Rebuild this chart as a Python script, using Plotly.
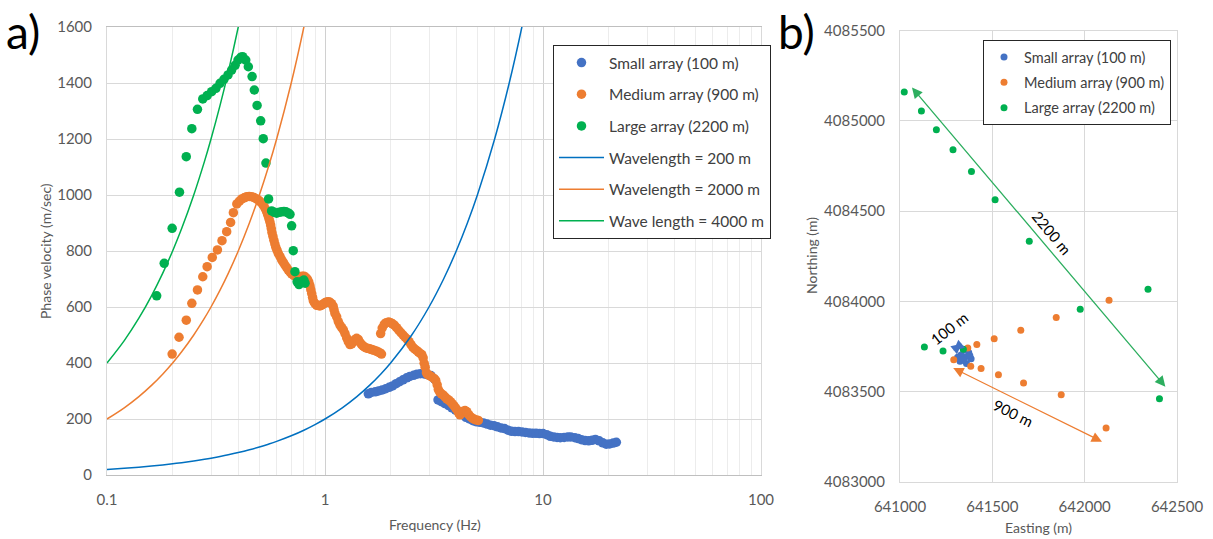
import plotly.graph_objects as go

# ---------------- Panel a) dispersion curves ----------------
SMALL_F = [1.58, 1.63, 1.70, 1.76, 1.83, 1.90, 1.97, 2.04, 2.12, 2.20, 2.28, 2.37,
           2.45, 2.55, 2.64, 2.74, 2.85, 2.95, 3.06, 3.18, 3.30, 3.42, 3.55, 3.69,
           3.82, 3.97, 4.12, 4.27, 4.43, 4.60, 4.77, 4.96, 5.14, 5.33, 5.54, 5.74,
           5.96, 6.18, 6.42, 6.66, 6.91, 7.17, 7.44, 7.72, 8.01, 8.31, 8.63, 8.95,
           9.29, 9.64, 10.0, 10.4, 10.8, 11.2, 11.6, 12.0, 12.5, 13.0, 13.4, 14.0,
           14.5, 15.0, 15.6, 16.2, 16.8, 17.4, 18.1, 18.8, 19.5, 20.2, 21.0, 21.7]
SMALL_V = [290, 295, 297, 300, 304, 308, 313, 318, 326, 333, 340, 347,
           352, 356, 360, 362, 361, 358, 355, 342, 268, 262, 255, 248,
           240, 232, 224, 216, 206, 200, 194, 190, 188, 186, 182, 178,
           176, 172, 168, 166, 160, 156, 155, 155, 154, 152, 150, 149,
           149, 148, 148, 144, 138, 136, 134, 133, 134, 136, 136, 133,
           130, 126, 123, 122, 124, 127, 122, 115, 110, 111, 114, 117]

MEDIUM_F = [0.199, 0.214, 0.231, 0.245, 0.260, 0.275, 0.288, 0.304, 0.321, 0.337,
            0.354, 0.369, 0.380, 0.394, 0.405, 0.415, 0.426, 0.437, 0.449, 0.461,
            0.473, 0.486, 0.497, 0.507, 0.516, 0.525, 0.533, 0.540, 0.547, 0.553,
            0.558, 0.563, 0.567, 0.571, 0.577, 0.583, 0.589, 0.595, 0.603, 0.611,
            0.622, 0.633, 0.644, 0.655, 0.667, 0.679, 0.691, 0.703, 0.720, 0.736,
            0.752, 0.768, 0.785, 0.801, 0.815, 0.830, 0.842, 0.853, 0.861, 0.869,
            0.877, 0.884, 0.900, 0.916, 0.932, 0.948, 0.965, 0.983, 1.000, 1.018,
            1.036, 1.054, 1.072, 1.090, 1.100, 1.111, 1.131, 1.151, 1.172, 1.193,
            1.214, 1.235, 1.257, 1.279, 1.302, 1.325, 1.349, 1.373, 1.397, 1.421,
            1.447, 1.472, 1.498, 1.526, 1.553, 1.581, 1.609, 1.638, 1.666, 1.696,
            1.726, 1.757, 1.788, 1.816,
            1.80, 1.83, 1.87, 1.91, 1.96, 2.00, 2.04, 2.08, 2.13, 2.18,
            2.23, 2.28, 2.33, 2.38, 2.43, 2.48, 2.53, 2.58, 2.63, 2.68,
            2.73, 2.78, 2.82, 2.85, 2.88, 2.92, 2.96, 3.02, 3.09, 3.16,
            3.22, 3.27, 3.31, 3.36, 3.42, 3.49, 3.56, 3.62, 3.69, 3.76,
            3.83, 3.90, 3.97, 4.04, 4.10, 4.16, 4.23, 4.31, 4.39, 4.47,
            4.56, 4.65, 4.74, 4.84, 4.95, 5.05]
MEDIUM_V = [432, 492, 553, 613, 661, 708, 744, 777, 804, 837,
            869, 902, 937, 968, 978, 986, 990, 994, 995, 994,
            991, 986, 981, 975, 968, 960, 950, 940, 928, 916,
            905, 893, 880, 866, 852, 838, 825, 813, 802, 791,
            780, 768, 759, 750, 741, 732, 725, 718, 712, 708,
            706, 708, 710, 710, 706, 700, 690, 676, 662, 648,
            634, 622, 612, 606, 605, 604, 607, 611, 615, 618,
            619, 617, 612, 603, 590, 577, 565, 548, 535, 526,
            518, 505, 490, 476, 466, 468, 476, 484, 488, 484,
            474, 466, 460, 456, 453, 452, 450, 448, 446, 444,
            442, 439, 436, 432,
            505, 525, 538, 544, 546, 544, 540, 535, 526, 517,
            508, 500, 492, 485, 476, 466, 456, 450, 445, 440,
            434, 430, 418, 399, 385, 365, 358, 355, 350, 345,
            338, 322, 305, 296, 290, 285, 278, 272, 268, 262,
            255, 248, 240, 232, 222, 215, 220, 228, 230, 226,
            216, 208, 203, 199, 196, 195]

LARGE_F = [0.169, 0.183, 0.199, 0.215, 0.231, 0.245, 0.260, 0.275, 0.288, 0.302,
           0.316, 0.330, 0.344, 0.359, 0.373, 0.387, 0.399, 0.411, 0.419, 0.433,
           0.445, 0.463, 0.474, 0.488, 0.507, 0.521, 0.536, 0.551, 0.569, 0.585,
           0.600, 0.617, 0.633, 0.648, 0.662, 0.678, 0.691, 0.703, 0.715, 0.728,
           0.745, 0.760, 0.768, 0.785, 0.800, 0.810]
LARGE_V = [640, 756, 881, 1010, 1137, 1237, 1306, 1343, 1355, 1369,
           1381, 1399, 1413, 1429, 1446, 1463, 1482, 1492, 1494, 1482,
           1458, 1423, 1375, 1320, 1265, 1201, 1114, 986, 943, 938,
           935, 938, 940, 941, 940, 936, 931, 890, 801, 726,
           690, 680, 687, 692, 696, 685]

# Frequencies at which the constant-wavelength reference curves are evaluated
LINE_F = [0.1, 0.12, 0.14, 0.16, 0.18, 0.2, 0.22, 0.25, 0.28, 0.3, 0.33, 0.36, 0.4,
          0.45, 0.5, 0.55, 0.6, 0.7, 0.8, 0.9, 1.0, 1.2, 1.4, 1.6, 1.8, 2.0,
          2.5, 3.0, 3.5, 4.0, 4.5, 5.0, 6.0, 7.0, 8.0, 9.0, 10.0]
WAVELENGTHS = [200, 2000, 4000]
WAVELENGTH_NAMES = ["Wavelength = 200 m", "Wavelength = 2000 m", "Wave length = 4000 m"]

# ---------------- Panel b) array layouts ----------------
SMALL_E = [641352, 641330, 641372, 641385, 641360, 641325, 641345, 641312, 641378, 641340]
SMALL_N = [4083690, 4083702, 4083716, 4083682, 4083655, 4083668, 4083728, 4083690, 4083700, 4083675]

MEDIUM_E = [642132, 641846, 641654, 641510, 641416, 641367, 641291,
            641383, 641439, 641533, 641669, 641873, 642116]
MEDIUM_N = [4084006, 4083910, 4083840, 4083793, 4083760, 4083741, 4083676,
            4083640, 4083627, 4083593, 4083547, 4083482, 4083298]

LARGE_E = [641023, 641116, 641197, 641287, 641387, 641515, 641700,
           641976, 642343, 642405, 641132, 641233, 641343]
LARGE_N = [4085160, 4085055, 4084951, 4084840, 4084720, 4084563, 4084333,
           4083956, 4084067, 4083460, 4083747, 4083725, 4083734]

SERIES_NAMES = ["Small array (100 m)", "Medium array (900 m)", "Large array (2200 m)"]
POINT_COLORS = ["#4472C4", "#ED7D31", "#00B050"]
LINE_COLORS = ["#0070C0", "#ED7D31", "#00B050"]

FONT = "Lato"
GRID = "#D9D9D9"
TICK_COLOR = "#595959"
W, H = 1213, 539

fig = go.Figure()

# Panel a) scatter series
for i, (f, v) in enumerate([(SMALL_F, SMALL_V), (MEDIUM_F, MEDIUM_V), (LARGE_F, LARGE_V)]):
    fig.add_trace(go.Scatter(
        x=f, y=v, mode="markers", name=SERIES_NAMES[i],
        marker=dict(color=POINT_COLORS[i], size=9.5, line=dict(width=0)),
        xaxis="x", yaxis="y", legend="legend", legendgroup=f"a{i}",
    ))

# Panel a) constant-wavelength lines: phase velocity = wavelength * frequency
for i, lam in enumerate(WAVELENGTHS):
    fig.add_trace(go.Scatter(
        x=LINE_F, y=[lam * f for f in LINE_F], mode="lines", name=WAVELENGTH_NAMES[i],
        line=dict(color=LINE_COLORS[i], width=1.5, shape="spline"),
        xaxis="x", yaxis="y", legend="legend", legendgroup=f"l{i}",
    ))

# Panel b) station positions
for i, (e, n) in enumerate([(SMALL_E, SMALL_N), (MEDIUM_E, MEDIUM_N), (LARGE_E, LARGE_N)]):
    fig.add_trace(go.Scatter(
        x=e, y=n, mode="markers", name=SERIES_NAMES[i],
        marker=dict(color=POINT_COLORS[i], size=7, line=dict(width=0)),
        xaxis="x2", yaxis="y2", legend="legend2", legendgroup=f"b{i}",
    ))

# Aperture arrows in panel b): (tail E, tail N, head E, head N, colour)
ARROWS = [
    (641058, 4085193, 642437, 4083527, "#2DAE5F"),
    (641280, 4083634, 642094, 4083222, "#ED7D31"),
    (641282, 4083721, 641334, 4083765, "#4472C4"),
]
ARROW_LABELS = [("2200 m", 641823, 4084377, 50), ("900 m", 641614, 4083379, 26),
                ("100 m", 641268, 4083852, -38)]

annotations = []
for e0, n0, e1, n1, col in ARROWS:
    annotations.append(dict(
        x=e1, y=n1, ax=e0, ay=n0, xref="x2", yref="y2", axref="x2", ayref="y2",
        text="", showarrow=True, arrowhead=2, startarrowhead=2, arrowside="end+start",
        arrowsize=1.6, startarrowsize=1.6, arrowwidth=1.3, arrowcolor=col,
        standoff=0, startstandoff=0,
    ))
for txt, e, n, ang in ARROW_LABELS:
    annotations.append(dict(
        x=e, y=n, xref="x2", yref="y2", text=txt, showarrow=False, textangle=ang,
        font=dict(family=FONT, size=15, color="#000000"),
    ))

# Panel letters and axis titles
def paper_text(txt, px, py, size, color, angle=0, anchor="center"):
    return dict(x=px / W, y=1 - py / H, xref="paper", yref="paper", text=txt,
                showarrow=False, xanchor=anchor, yanchor="middle", textangle=angle,
                font=dict(family=FONT, size=size, color=color))

annotations.append(paper_text("a)", 4, 31, 46, "#000000", anchor="left"))
annotations.append(paper_text("b)", 776, 31, 46, "#000000", anchor="left"))
annotations.append(paper_text("Frequency (Hz)", 435, 524, 14, TICK_COLOR))
annotations.append(paper_text("Phase velocity (m/sec)", 45, 251, 14, TICK_COLOR, angle=-90))
annotations.append(paper_text("Easting (m)", 1038, 527, 14, TICK_COLOR))
annotations.append(paper_text("Northing (m)", 811, 256, 14, TICK_COLOR, angle=-90))

tickfont = dict(family=FONT, size=15, color=TICK_COLOR)

common = dict(showgrid=True, gridwidth=1, showline=True, linewidth=1, mirror=True,
              ticks="outside", ticklen=11, tickcolor="rgba(0,0,0,0)",
              tickfont=tickfont, zeroline=False, automargin=False)

fig.update_layout(
    width=W, height=H,
    margin=dict(l=0, r=0, t=0, b=0, autoexpand=False),
    paper_bgcolor="white", plot_bgcolor="white",
    showlegend=True,
    annotations=annotations,
    xaxis=dict(
        type="log", range=[-1, 2], domain=[107 / W, 761 / W], anchor="y",
        dtick=1, gridcolor="#D0D0D0", linecolor="#BFBFBF",
        minor=dict(dtick="D1", showgrid=True, gridcolor="#ECECEC", gridwidth=1, ticks=""),
        **common,
    ),
    yaxis=dict(
        range=[0, 1600], domain=[1 - 475 / H, 1 - 27 / H], anchor="x",
        dtick=200, gridcolor=GRID, linecolor=GRID, **common,
    ),
    xaxis2=dict(
        range=[641000, 642500], domain=[900 / W, 1177 / W], anchor="y2",
        dtick=500, tickformat="d", gridcolor=GRID, linecolor=GRID, **common,
    ),
    yaxis2=dict(
        range=[4083000, 4085500], domain=[1 - 481.7 / H, 1 - 30.7 / H], anchor="x2",
        dtick=500, tickformat="d", gridcolor=GRID, linecolor=GRID, **common,
    ),
    legend=dict(
        x=553 / W, y=1 - 45 / H, xanchor="left", yanchor="top",
        bgcolor="white", bordercolor="#262626", borderwidth=1,
        font=dict(family=FONT, size=15.5, color="#404040"),
        tracegroupgap=8.5, itemwidth=45,
    ),
    legend2=dict(
        x=983 / W, y=1 - 40 / H, xanchor="left", yanchor="top",
        bgcolor="white", bordercolor="#262626", borderwidth=1,
        font=dict(family=FONT, size=14.5, color="#404040"),
        tracegroupgap=3.5, itemwidth=30, itemsizing="trace",
    ),
)

fig.write_html("out.html")
